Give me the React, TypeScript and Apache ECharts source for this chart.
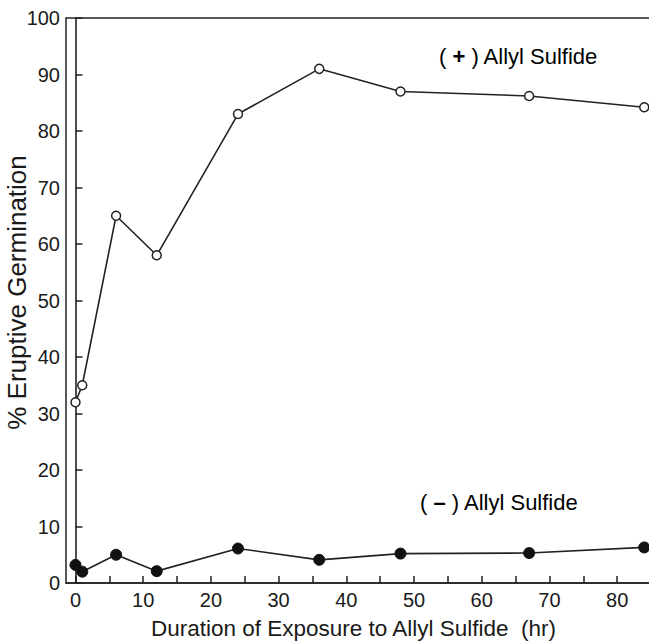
import React, { useEffect, useRef } from "react";
import * as echarts from "echarts";

const hours = [0, 1, 6, 12, 24, 36, 48, 67, 84];
const withAllylSulfide = [32, 35, 65, 58, 83, 91, 87, 86.2, 84.2];
const withoutAllylSulfide = [3.2, 2.0, 5.0, 2.1, 6.1, 4.1, 5.2, 5.3, 6.3];
const xTickValues = [0, 5, 10, 15, 20, 25, 30, 35, 40, 45, 50, 55, 60, 65, 70, 75, 80];
const xLabelValues = [0, 10, 20, 30, 40, 50, 60, 70, 80];
const plusSign = "+";
const minusSign = "\u2013";
const seriesLabel = "Allyl Sulfide";

const FONT = "'Liberation Sans', Arial, Helvetica, sans-serif";

export default function App() {
  const ref = useRef<HTMLDivElement>(null);
  useEffect(() => {
    if (!ref.current) return;
    const chart = echarts.init(ref.current, null, { renderer: "svg" });
    const annot = (sign: string) => ({
      text: `{p|(}{s| ${sign} }{p|) ${seriesLabel}}`,
      rich: {
        p: { fontFamily: FONT, fontSize: 22, color: "#1a1a1a" },
        s: { fontFamily: FONT, fontSize: 22, fontWeight: "bold", color: "#1a1a1a" },
      },
    });
    chart.setOption({
      animation: false,
      backgroundColor: "#ffffff",
      grid: {
        left: 66,
        right: -2,
        top: 18,
        bottom: 58,
        outerBoundsMode: "none",
        containLabel: false,
        show: true,
        borderColor: "#222",
        borderWidth: 1.5,
      },
      xAxis: {
        type: "value",
        min: -1.4,
        max: 85,
        name: "Duration of Exposure to Allyl Sulfide  (hr)",
        nameLocation: "middle",
        nameGap: 34,
        nameMoveOverlap: false,
        nameTextStyle: { fontFamily: FONT, fontSize: 22.5, color: "#1a1a1a", padding: [0, 10, 0, 0] },
        axisLine: { show: true, onZero: false, lineStyle: { color: "#222", width: 1.6 } },
        axisTick: { show: true, inside: true, length: 7, customValues: xTickValues, lineStyle: { color: "#222", width: 1.5 } },
        axisLabel: { customValues: xLabelValues, fontFamily: FONT, fontSize: 20, color: "#1a1a1a", margin: 7 },
        splitLine: { show: false },
      },
      yAxis: {
        type: "value",
        min: 0,
        max: 100,
        interval: 10,
        name: "% Eruptive Germination",
        nameLocation: "middle",
        nameGap: 36,
        nameMoveOverlap: false,
        nameTextStyle: { fontFamily: FONT, fontSize: 26, color: "#1a1a1a", padding: [0, 0, 0, 16] },
        axisLine: { show: true, lineStyle: { color: "#222", width: 1.6 } },
        axisTick: { show: true, inside: true, length: 7, lineStyle: { color: "#222", width: 1.5 } },
        axisLabel: { fontFamily: FONT, fontSize: 20, color: "#1a1a1a", margin: 6 },
        splitLine: { show: false },
      },
      series: [
        {
          name: "(+) Allyl Sulfide",
          type: "line",
          data: hours.map((h, i) => [h, withAllylSulfide[i]]),
          symbol: "circle",
          symbolSize: 9,
          itemStyle: { color: "#ffffff", borderColor: "#222", borderWidth: 1.5 },
          lineStyle: { color: "#222", width: 1.6 },
          z: 3,
        },
        {
          name: "(-) Allyl Sulfide",
          type: "line",
          data: hours.map((h, i) => [h, withoutAllylSulfide[i]]),
          symbol: "circle",
          symbolSize: 11,
          itemStyle: { color: "#111", borderColor: "#111", borderWidth: 1 },
          lineStyle: { color: "#222", width: 1.6 },
          z: 3,
        },
      ],
      graphic: [
        { type: "text", left: 439, top: 45, style: annot(plusSign) },
        { type: "text", left: 420, top: 491, style: annot(minusSign) },
      ],
    });
    return () => chart.dispose();
  }, []);
  return <div ref={ref} style={{ width: 649, height: 641, position: "absolute", left: 0, top: 0 }} />;
}
